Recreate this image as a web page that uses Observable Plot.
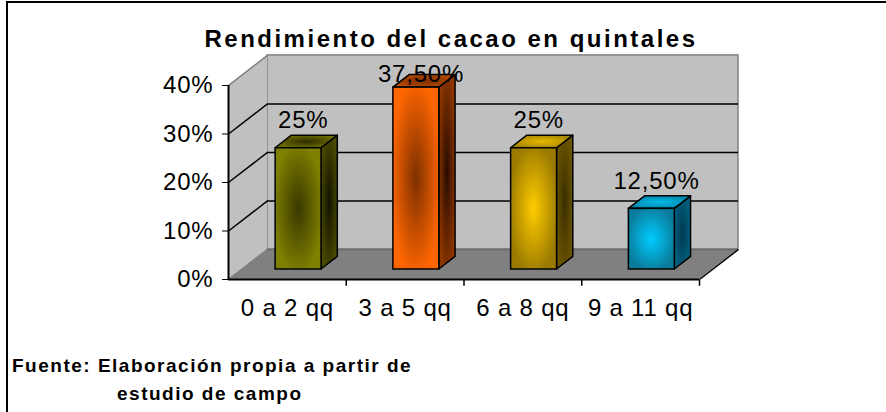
<!DOCTYPE html>
<html>
<head>
<meta charset="utf-8">
<script src="https://cdn.jsdelivr.net/npm/d3@7"></script>
<script src="https://cdn.jsdelivr.net/npm/@observablehq/plot@0.6"></script>
<style>
  html, body { margin: 0; padding: 0; background: #fff; }
  #wrap { position: relative; width: 886px; height: 412px; overflow: hidden;
          font-family: "Liberation Sans", Arial, sans-serif; color: #000; }
  #frame { position: absolute; left: 6px; top: 1px; width: 900px; height: 430px;
           border-top: 2px solid #000; border-left: 2px solid #000; }
  #title { position: absolute; left: 0; top: 27px; width: 902px; text-align: center;
           font-weight: bold; font-size: 24px; line-height: 24px; letter-spacing: 2.5px; white-space: nowrap; }
  .foot { position: absolute; font-weight: bold; font-size: 19px; line-height: 19px;
          letter-spacing: 1.5px; white-space: nowrap; }
  #chart { position: absolute; left: 0; top: 0; }
  #chart svg text { letter-spacing: 0.8px; }
</style>
</head>
<body>
<div id="wrap">
  <div id="frame"></div>
  <div id="chart"></div>
  <div id="title">Rendimiento del cacao en quintales</div>
  <div class="foot" style="left:12px; top:356px;">Fuente: Elaboración propia a partir de</div>
  <div class="foot" style="left:117px; top:384px;">estudio de campo</div>
</div>
<script>
// ---- data ----
const categories = ["0 a 2 qq", "3 a 5 qq", "6 a 8 qq", "9 a 11 qq"];
const values = [0.25, 0.375, 0.25, 0.125];
const valueLabels = ["25%", "37,50%", "25%", "12,50%"];
const yTicks = [0, 0.1, 0.2, 0.3, 0.4];
const gridValues = [0.1, 0.2, 0.3];

// ---- styles ----
const frontColors = [["#383800", "#808000"], ["#7e3000", "#ff6600"], ["#ffcc00", "#9a7a00"], ["#00ccff", "#0a7b9a"]];
const sideColors  = [["#121200", "#4a4a00"], ["#260b00", "#8f3600"], ["#3a2e00", "#6b5500"], ["#003a50", "#006080"]];
const topColors   = [["#2d2d00", "#707000"], ["#7a2e00", "#b84a00"], ["#e6b800", "#a68600"], ["#00b8e6", "#0088aa"]];

// 3D geometry (data units): full wall depth offset
const DX = 0.331, DY = 0.062;
const BAR_L = 0.29, BAR_R = 0.68, Z0 = 0.333, Z1 = 0.75;
const n = categories.length;
const idx = d3.range(n);
const yMax = yTicks[yTicks.length - 1];
const c = v => () => v;

const marks = [
  // back wall
  Plot.rect([0], {x1: c(DX), x2: c(n + DX), y1: c(DY), y2: c(yMax + DY), fill: "#c0c0c0", stroke: "#808080", strokeWidth: 1.5}),
  // side wall
  Plot.areaY([0, 1], {x: t => t * DX, y1: t => t * DY, y2: t => yMax + t * DY, fill: "#c0c0c0"}),
  // floor
  Plot.areaX([0, 1], {y: t => t * DY, x1: t => t * DX, x2: t => n + t * DX, fill: "#808080"}),
  // gridlines on back wall
  Plot.ruleY(gridValues, {y: d => d + DY, x1: c(DX), x2: c(n + DX), stroke: "#000", strokeWidth: 1.5}),
  // gridlines on side wall
  Plot.link(gridValues, {x1: c(0), y1: d => d, x2: c(DX), y2: d => d + DY, stroke: "#000", strokeWidth: 1.5}),
  // side wall top edge & floor left edge (gray)
  Plot.link([yMax, 0], {x1: c(0), y1: d => d, x2: c(DX), y2: d => d + DY, stroke: "#808080", strokeWidth: 1.5}),
  // floor back edge
  Plot.ruleY([0], {y: d => d + DY, x1: c(DX), x2: c(n + DX), stroke: "#6a6a6a", strokeWidth: 1.5}),
  // floor right edge (black)
  Plot.link([n], {x1: d => d, y1: c(0), x2: d => d + DX, y2: c(DY), stroke: "#000", strokeWidth: 1.5}),
  // axis lines
  Plot.ruleY([0], {x1: c(0), x2: c(n), stroke: "#000", strokeWidth: 2}),
  Plot.ruleX([0], {y1: c(0), y2: c(yMax), stroke: "#000", strokeWidth: 2}),
  // x ticks between categories
  Plot.link(d3.range(1, n + 1), {x1: d => d, x2: d => d, y1: c(0), y2: c(-0.013), stroke: "#000", strokeWidth: 1.5})
];

// bars (front, side, top)
idx.forEach(i => {
  const v = values[i];
  marks.push(
    Plot.areaY([Z0, Z1], {
      x: z => i + BAR_R + z * DX, y1: z => z * DY, y2: z => v + z * DY,
      fill: `url(#side${i})`, stroke: "#000", strokeWidth: 1.5, strokeLinejoin: "round"
    }),
    Plot.areaX([Z0, Z1], {
      y: z => v + z * DY, x1: z => i + BAR_L + z * DX, x2: z => i + BAR_R + z * DX,
      fill: `url(#top${i})`, stroke: "#000", strokeWidth: 1.5, strokeLinejoin: "round"
    }),
    Plot.rect([i], {
      x1: d => d + BAR_L + Z0 * DX, x2: d => d + BAR_R + Z0 * DX,
      y1: c(Z0 * DY), y2: c(v + Z0 * DY),
      fill: `url(#front${i})`, stroke: "#000", strokeWidth: 1.5
    })
  );
});

// value labels
marks.push(Plot.text(idx, {
  x: i => i + (BAR_L + BAR_R) / 2 + Z0 * DX + 0.04,
  y: i => Math.min(values[i] + Z0 * DY + 0.057, 0.423),
  text: i => valueLabels[i],
  fontSize: 24, fill: "#000"
}));

const svg = Plot.plot({
  width: 886,
  height: 412,
  marginLeft: 228,
  marginRight: 187,
  marginTop: 85,
  marginBottom: 133,
  style: {fontSize: "24px", fontFamily: "'Liberation Sans', Arial, sans-serif", background: "transparent", overflow: "visible", color: "#000"},
  x: {domain: [0, n], ticks: idx.map(i => i + 0.5), tickFormat: d => categories[Math.floor(d)], tickSize: 0, tickPadding: 19, label: null},
  y: {domain: [0, yMax], ticks: yTicks, tickFormat: d => Math.round(d * 100) + "%", tickSize: 6, tickPadding: 9, label: null},
  marks
});

// gradients
const defs = d3.select(svg).insert("defs", ":first-child");
function addGrad(id, center, edge, r) {
  const g = defs.append("radialGradient").attr("id", id)
    .attr("cx", "50%").attr("cy", "50%").attr("r", r);
  g.append("stop").attr("offset", "0%").attr("stop-color", center);
  g.append("stop").attr("offset", "100%").attr("stop-color", edge);
}
idx.forEach(i => {
  addGrad("front" + i, frontColors[i][0], frontColors[i][1], "55%");
  addGrad("side" + i, sideColors[i][0], sideColors[i][1], "55%");
  addGrad("top" + i, topColors[i][0], topColors[i][1], "55%");
});

document.getElementById("chart").appendChild(svg);
</script>
</body>
</html>
